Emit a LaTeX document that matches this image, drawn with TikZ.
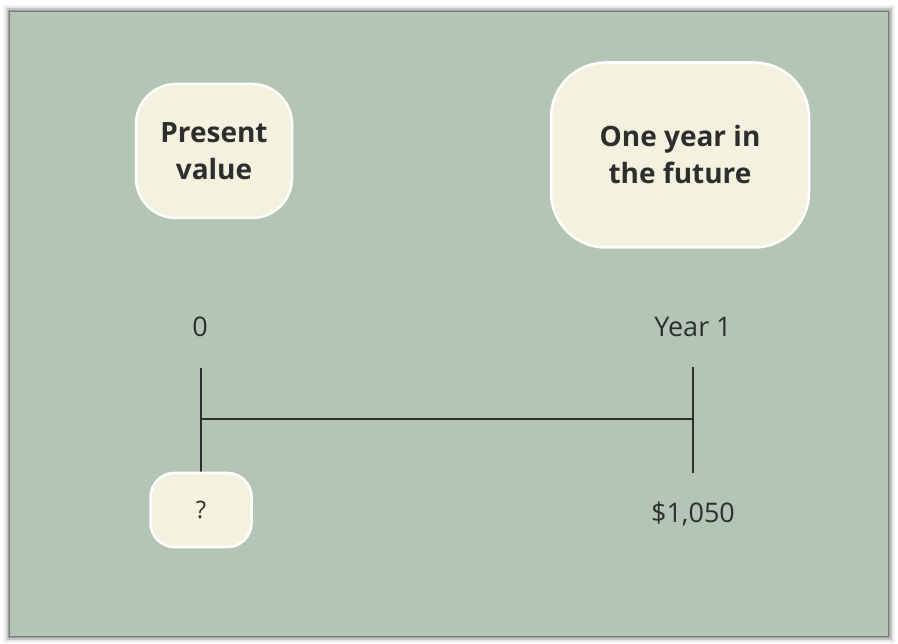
\documentclass[tikz,border=0pt]{standalone}
\usepackage{fontspec}
\setmainfont{Open Sans}
\definecolor{panel}{HTML}{B3C6B6}
\definecolor{cream}{HTML}{F3F2DF}
\definecolor{ink}{HTML}{2E2E2E}
\tikzset{
  bubble/.style={fill=cream, draw=white, line width=2.5pt, align=center,
    font=\fontsize{28}{37}\selectfont\bfseries, text=ink},
  lbl/.style={font=\fontsize{27}{30}\selectfont, text=ink},
  tl/.style={draw=ink, line width=1.8pt}
}
\begin{document}
\begin{tikzpicture}[x=1pt,y=-1pt]
\useasboundingbox (0,0) rectangle (898,644);
\fill[white] (0,0) rectangle (898,644);
% shadow
\foreach \d/\o in {7/0.05,5/0.08,3.5/0.12,2/0.18,1/0.22}{
  \fill[black,opacity=\o] (10-\d,12-\d) rectangle (888+\d,636+\d);
}
\fill[panel] (10,12) rectangle (888,636);
% bubbles
\node[bubble, rounded corners=40pt, minimum width=156pt, minimum height=134pt] (pv) at (214,151) {Present\\value};
\node[bubble, rounded corners=55pt, minimum width=258pt, minimum height=185pt] (fy) at (680,155) {One year in\\the future};
% labels
\node[lbl] (zero) at (200,327) {0};
\node[lbl] (yr) at (693,327) {Year 1};
\coordinate (lt) at (201,368);
\coordinate (lb) at (201,472);
\coordinate (rt) at (693,367);
\coordinate (rb) at (693,473);
\coordinate (lm) at (201,419);
\coordinate (rm) at (693,419);
\draw[tl] (lt) -- (lb);
\draw[tl] (rt) -- (rb);
\draw[tl] (lm) -- (rm);
\node[bubble, font=\fontsize{24}{26}\selectfont, rounded corners=24pt, minimum width=101pt, minimum height=74pt] (q) at (201,510) {?};
\node[lbl] (amt) at (693,514) {\$1,050};
\end{tikzpicture}
\end{document}
